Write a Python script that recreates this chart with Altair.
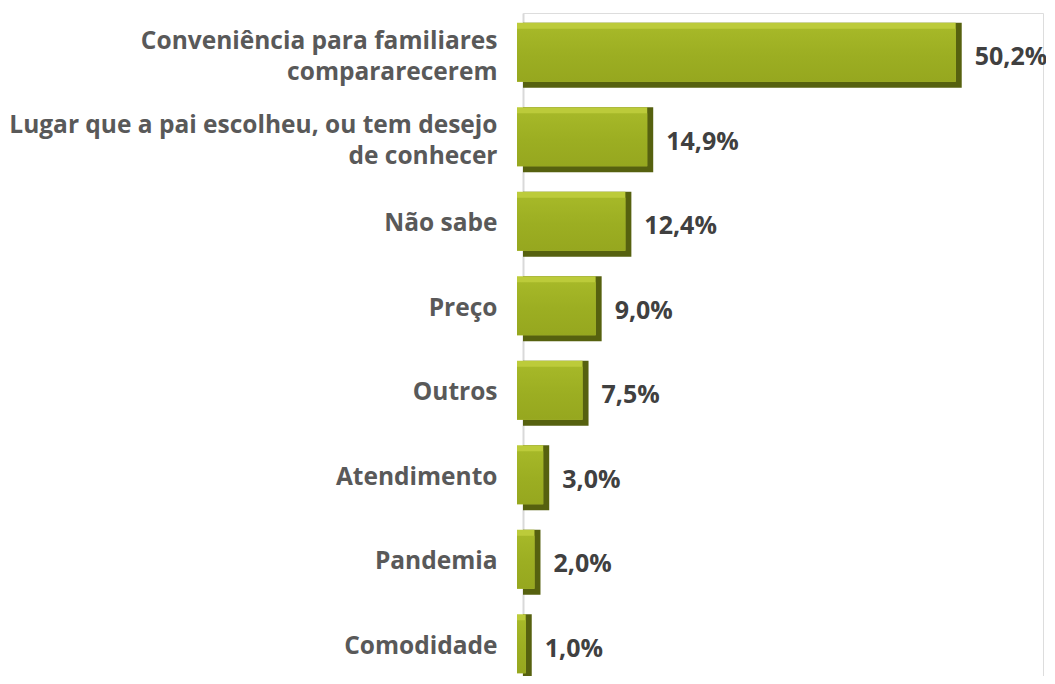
import altair as alt
import pandas as pd

categories = [
    "Conveniência para familiares|compararecerem",
    "Lugar que a pai escolheu, ou tem desejo|de conhecer",
    "Não sabe",
    "Preço",
    "Outros",
    "Atendimento",
    "Pandemia",
    "Comodidade",
]
values = [50.2, 14.9, 12.4, 9.0, 7.5, 3.0, 2.0, 1.0]
value_labels = ["50,2%", "14,9%", "12,4%", "9,0%", "7,5%", "3,0%", "2,0%", "1,0%"]

df = pd.DataFrame({"cat": categories, "val": values, "lab": value_labels})

FONT = "Open Sans"

y_enc = alt.Y(
    "cat:N",
    sort=categories,
    title=None,
    scale=alt.Scale(paddingInner=0.0, paddingOuter=0.0, range=[0, 676]),
    axis=alt.Axis(
        labelExpr="split(datum.label, '|')",
        labelFont=FONT,
        labelFontSize=24.5,
        labelFontWeight="bold",
        labelColor="#595959",
        labelLineHeight=31,
        labelPadding=26,
        labelLimit=600,
        labelOffset={"condition": {"test": "indexof(datum.label, '|') >= 0", "value": -13.5}, "value": 0},
        ticks=False,
        domainColor="#d9d9d9",
        domainWidth=2,
        grid=False,
    ),
)
x_enc = alt.X(
    "val:Q",
    scale=alt.Scale(domain=[0, 59.5]),
    axis=None,
)

H = 65
B = 6

base = alt.Chart(df).encode(x=x_enc, y=y_enc)

bar_dark = base.mark_bar(color="#56610f", height=H)
bar_light = base.mark_bar(color="#bccb3a", height=H - B, yOffset=-B / 2,
                          xOffset=-B, x2Offset=B)
bar_face = base.mark_bar(
    color=alt.Gradient(
        gradient="linear", x1=0, y1=0, x2=0, y2=1,
        stops=[
            alt.GradientStop(offset=0.0, color="#a6b828"),
            alt.GradientStop(offset=0.5, color="#9cae22"),
            alt.GradientStop(offset=1.0, color="#96a71f"),
        ],
    ),
    height=H - 2 * B, xOffset=-B, x2Offset=2 * B,
)

texts = base.mark_text(
    align="left", baseline="middle", dx=13, yOffset=2, font=FONT, fontSize=25,
    fontWeight="bold", color="#404040"
).encode(text="lab:N")

chart = (
    alt.layer(bar_dark, bar_light, bar_face, texts)
    .properties(
        width=520,
        height=663,
        autosize=alt.AutoSizeParams(type="none"),
        padding={"left": 515, "top": 5, "right": 3, "bottom": 0},
    )
    .configure_view(strokeWidth=0, stroke="transparent")
    .configure(background="white")
)

chart.save("out.html", embed_options={"renderer": "svg", "actions": False})
